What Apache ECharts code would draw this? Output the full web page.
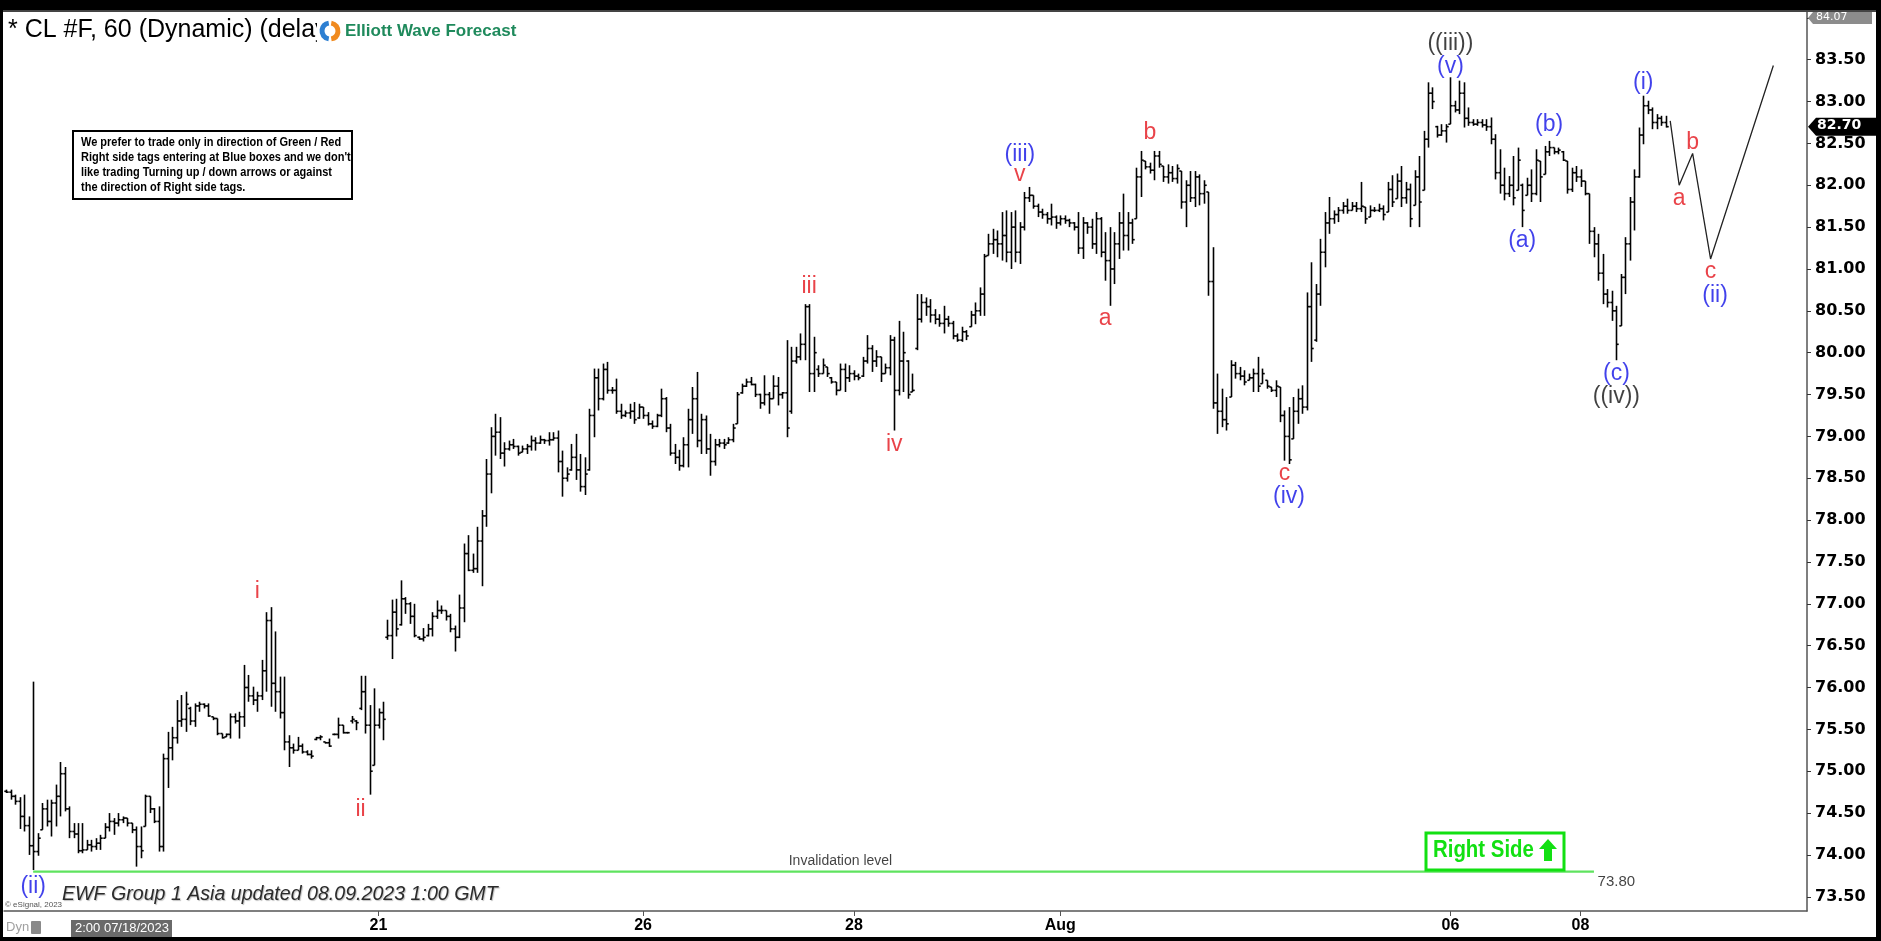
<!DOCTYPE html>
<html>
<head>
<meta charset="utf-8">
<script src="https://cdn.jsdelivr.net/npm/echarts@6/dist/echarts.min.js"></script>
<style>
html,body{margin:0;padding:0;background:#000;}
#chart{width:1881px;height:941px;}
</style>
</head>
<body>
<div id="chart"></div>
<script>
// ---------- DATA (hourly OHLC bars: [open, high, low, close]) ----------
const barsJul18to21 = [
[74.76,74.78,74.74,74.75],[74.75,74.78,74.66,74.70],[74.70,74.72,74.60,74.64],[74.64,74.69,74.31,74.46],[74.46,74.72,74.28,74.35],
[74.35,74.46,74.00,74.11],[74.11,76.07,73.82,74.04],[74.04,74.26,73.99,74.20],[74.30,74.62,74.30,74.55],[74.55,74.66,74.34,74.40],
[74.40,74.66,74.22,74.62],[74.62,74.84,74.34,74.70],[74.70,75.11,74.46,74.97],[74.97,75.05,74.52,74.55],[74.55,74.58,74.20,74.28],
[74.28,74.38,74.20,74.25],[74.25,74.38,74.02,74.05],[74.05,74.38,74.02,74.06],[74.06,74.18,74.06,74.12],[74.12,74.18,74.04,74.10],
[74.10,74.20,74.06,74.14],[74.14,74.24,74.06,74.20],[74.20,74.38,74.20,74.33],[74.33,74.50,74.28,74.40],[74.40,74.44,74.24,74.38],
[74.38,74.50,74.34,74.42],[74.42,74.46,74.38,74.44],[74.44,74.44,74.34,74.38],[74.38,74.38,74.26,74.30],[74.30,74.34,73.86,74.10],
[74.10,74.34,73.96,74.05],[74.34,74.72,74.34,74.70],[74.70,74.70,74.50,74.55],[74.55,74.56,74.38,74.40],[74.40,74.58,74.04,74.10],
[74.10,75.21,74.04,75.15],[75.15,75.47,74.80,75.28],[75.28,75.53,75.13,75.40],[75.40,75.85,75.33,75.60],[75.60,75.91,75.53,75.62],
[75.62,75.95,75.47,75.80],[75.75,75.77,75.55,75.60],[75.60,75.81,75.53,75.78],[75.78,75.83,75.71,75.80],[75.80,75.81,75.75,75.78],
[75.78,75.81,75.65,75.66],[75.65,75.65,75.61,75.63],[75.63,75.63,75.43,75.45],[75.45,75.45,75.39,75.40],[75.41,75.45,75.41,75.44],
[75.44,75.69,75.39,75.65],[75.65,75.69,75.57,75.60],[75.60,75.71,75.39,75.65],[75.65,76.27,75.53,76.00],[76.00,76.15,75.83,75.90],
[75.90,76.01,75.79,75.85],[75.85,75.95,75.71,75.90],[75.90,76.33,75.85,76.20],[76.20,76.90,75.95,76.80],[76.80,76.96,75.77,76.05],
[76.05,76.67,75.71,75.95]
];
const barsJul21to25 = [
[75.95,76.13,75.63,75.70],[75.70,76.13,75.25,75.35],[75.35,75.43,75.05,75.28],[75.28,75.33,75.21,75.25],[75.25,75.41,75.25,75.30],
[75.30,75.33,75.21,75.23],[75.23,75.25,75.19,75.20],[75.20,75.25,75.15,75.18],[75.38,75.41,75.37,75.40],[75.40,75.43,75.37,75.41],
[75.35,75.35,75.33,75.34],[75.34,75.39,75.29,75.30],[75.44,75.45,75.43,75.44],[75.44,75.64,75.39,75.55],[75.55,75.55,75.45,75.46],
[75.46,75.47,75.45,75.46],[75.60,75.66,75.57,75.62],[75.60,75.61,75.49,75.58],[75.75,76.14,75.73,75.95],[75.95,76.14,75.45,75.55],
[75.55,75.79,74.72,75.00],[75.07,75.99,75.07,75.55],[75.55,75.75,75.51,75.70],[75.70,75.83,75.37,75.62],[76.60,76.81,76.57,76.62],
[76.62,77.05,76.34,76.90],[76.90,77.06,76.61,76.70],[76.75,77.28,76.74,77.06],[77.06,77.08,76.88,77.00],[77.00,77.02,76.76,76.85],
[76.85,77.00,76.60,76.62],[76.60,76.61,76.57,76.58],[76.58,76.71,76.55,76.60],[76.62,76.76,76.61,76.70],[76.70,76.90,76.61,76.85],
[76.85,77.04,76.82,76.92],[76.92,76.98,76.88,76.92],[76.92,76.92,76.80,76.85],[76.85,76.88,76.66,76.70],[76.70,76.74,76.43,76.60],
[76.60,77.11,76.59,76.95],[76.95,77.72,76.78,77.60],[77.60,77.82,77.39,77.40],[77.40,77.60,77.37,77.42],[77.42,77.92,77.37,77.75],
[77.75,78.12,77.21,78.05],[78.05,78.73,77.92,78.55],[78.55,79.11,78.32,79.00],[79.00,79.27,78.77,79.05],[79.05,79.23,78.73,78.80],
[78.80,78.93,78.64,78.85],[78.85,78.95,78.83,78.90],[78.90,78.97,78.85,78.88],[78.88,78.89,78.77,78.80],[78.81,78.89,78.81,78.85],
[78.85,78.91,78.79,78.88],[78.88,79.01,78.83,78.95],[78.95,78.99,78.83,78.92],[78.92,79.01,78.91,78.96],[78.96,78.97,78.91,78.95],
[78.95,79.05,78.89,78.96],[78.96,79.05,78.95,78.98]
];
const barsJul25to28 = [
[78.98,79.07,78.57,78.70],[78.70,78.83,78.28,78.50],[78.50,78.63,78.46,78.55],[78.60,78.91,78.59,78.75],[78.75,79.03,78.48,78.60],
[78.60,78.79,78.34,78.40],[78.40,78.75,78.30,78.55],[78.60,79.33,78.59,79.25],[79.25,79.81,78.99,79.70],[79.70,79.81,79.31,79.45],
[79.45,79.87,79.43,79.80],[79.80,79.89,79.51,79.55],[79.55,79.59,79.51,79.55],[79.55,79.69,79.27,79.30],[79.30,79.39,79.21,79.25],
[79.25,79.31,79.23,79.28],[79.28,79.39,79.21,79.30],[79.30,79.41,79.15,79.20],[79.22,79.39,79.21,79.35],[79.35,79.35,79.21,79.25],
[79.25,79.29,79.13,79.15],[79.15,79.19,79.09,79.12],[79.12,79.27,79.11,79.25],[79.25,79.57,79.23,79.45],[79.45,79.47,79.05,79.10],
[79.10,79.15,78.77,78.80],[78.80,78.91,78.67,78.75],[78.75,78.84,78.59,78.65],[78.65,78.99,78.63,78.90],[78.90,79.33,78.63,79.20],
[79.20,79.59,79.03,79.45],[79.45,79.77,78.87,78.95],[78.95,79.27,78.79,79.20],[79.20,79.25,78.79,78.85],[78.85,79.03,78.53,78.70],
[78.70,78.97,78.65,78.90],[78.90,78.97,78.87,78.92],[78.92,78.97,78.85,78.90],[78.92,78.99,78.91,78.96],[78.96,79.15,78.93,79.10],
[79.15,79.53,79.15,79.50],[79.52,79.63,79.51,79.60],[79.60,79.69,79.59,79.65],[79.65,79.71,79.61,79.62],[79.62,79.63,79.47,79.50],
[79.50,79.51,79.33,79.40],[79.40,79.73,79.37,79.50],[79.50,79.53,79.27,79.45],[79.45,79.73,79.45,79.60],[79.60,79.71,79.37,79.50],
[79.50,79.53,79.45,79.52],[79.52,80.15,78.99,79.10],[79.30,80.07,79.27,79.90],[79.90,80.07,79.87,79.95],[79.95,80.23,79.91,80.10],
[80.10,80.58,79.91,80.55],[80.55,80.58,79.53,79.75],[79.75,80.19,79.53,80.00],[79.80,79.85,79.71,79.75]
];
const barsJul28toAug2 = [
[79.75,79.93,79.75,79.85],[79.83,79.83,79.71,79.75],[79.70,79.71,79.63,79.65],[79.65,79.65,79.49,79.55],[79.55,79.87,79.55,79.80],
[79.80,79.87,79.53,79.70],[79.70,79.85,79.65,79.75],[79.75,79.79,79.67,79.72],[79.72,79.75,79.67,79.70],[79.72,79.95,79.71,79.90],
[79.90,80.21,79.87,80.05],[80.05,80.09,79.77,79.90],[79.90,80.03,79.83,79.95],[79.95,79.95,79.65,79.75],[79.75,79.87,79.75,79.82],
[79.82,80.21,79.73,80.15],[80.15,80.19,79.07,79.55],[79.55,80.38,79.49,79.90],[79.90,80.25,79.53,80.00],[79.90,79.91,79.45,79.50],
[79.53,79.75,79.53,79.55],[80.05,80.70,80.03,80.40],[80.40,80.70,80.36,80.60],[80.60,80.66,80.44,80.55],[80.55,80.64,80.36,80.45],
[80.45,80.52,80.34,80.40],[80.40,80.46,80.31,80.35],[80.35,80.56,80.23,80.40],[80.40,80.44,80.31,80.35],[80.35,80.38,80.16,80.20],
[80.20,80.23,80.13,80.15],[80.15,80.31,80.13,80.25],[80.25,80.27,80.15,80.20],[80.31,80.50,80.31,80.45],[80.45,80.60,80.34,80.50],
[80.50,80.78,80.44,80.70],[80.70,81.18,80.44,81.15],[81.16,81.42,81.16,81.30],[81.30,81.48,81.18,81.35],[81.35,81.46,81.14,81.30],
[81.30,81.68,81.10,81.40],[81.40,81.70,81.08,81.20],[81.20,81.68,81.00,81.50],[81.50,81.70,81.08,81.20],[81.20,81.56,81.06,81.50],
[81.50,81.92,81.46,81.85],[81.85,81.98,81.80,81.88],[81.88,81.88,81.72,81.75],[81.75,81.78,81.62,81.68],[81.68,81.72,81.60,81.65],
[81.65,81.68,81.54,81.60],[81.60,81.78,81.52,81.62],[81.62,81.64,81.48,81.55],[81.55,81.64,81.52,81.60],[81.60,81.64,81.54,81.58],
[81.58,81.60,81.50,81.55],[81.55,81.56,81.46,81.50],[81.50,81.68,81.18,81.25],[81.25,81.62,81.12,81.55],[81.55,81.56,81.42,81.50],
[81.50,81.60,81.24,81.30],[81.30,81.68,81.18,81.60],[81.60,81.62,81.14,81.20],[81.20,81.44,80.86,81.10]
];
const barsAug2toAug4 = [
[81.10,81.50,80.56,81.00],[81.00,81.44,80.82,81.30],[81.30,81.68,81.12,81.55],[81.55,81.90,81.22,81.40],[81.40,81.68,81.22,81.55],
[81.55,81.60,81.30,81.35],[81.60,82.21,81.60,82.10],[82.10,82.41,81.86,82.30],[82.29,82.29,82.19,82.22],[82.22,82.27,82.14,82.18],
[82.18,82.41,82.06,82.35],[82.35,82.41,82.21,82.25],[82.23,82.23,82.04,82.10],[82.10,82.25,82.02,82.15],[82.15,82.23,82.04,82.08],
[82.08,82.25,82.02,82.20],[82.17,82.17,81.72,81.80],[81.80,82.06,81.50,82.00],[82.00,82.17,81.80,81.85],[81.85,82.17,81.74,82.10],
[82.10,82.13,81.76,81.90],[81.90,82.06,81.78,82.00],[81.92,81.92,80.68,80.85],[80.85,81.26,79.33,79.40],[79.40,79.75,79.03,79.30],
[79.30,79.57,79.11,79.20],[79.20,79.47,79.07,79.15],[79.47,79.91,79.47,79.85],[79.85,79.89,79.69,79.75],[79.75,79.83,79.67,79.72],
[79.72,79.79,79.61,79.65],[79.67,79.75,79.67,79.70],[79.70,79.81,79.53,79.75],[79.75,79.95,79.53,79.60],[79.63,79.81,79.63,79.75],
[79.67,79.67,79.57,79.60],[79.59,79.59,79.53,79.55],[79.55,79.67,79.47,79.60],[79.59,79.59,79.17,79.25],[79.25,79.31,78.71,79.00],
[79.00,79.35,78.67,78.72],[78.97,79.47,78.97,79.30],[79.30,79.57,79.15,79.45],[79.45,79.61,79.27,79.35],[79.35,80.72,79.31,80.55],
[80.55,81.08,79.89,80.05],[80.15,80.82,80.13,80.70],[80.70,81.36,80.56,81.20],[81.20,81.68,81.02,81.55],[81.55,81.86,81.42,81.60],
[81.60,81.70,81.54,81.65],[81.65,81.74,81.56,81.70],[81.70,81.80,81.66,81.75],[81.75,81.84,81.66,81.70],[81.70,81.80,81.70,81.75],
[81.75,81.80,81.68,81.72],[81.72,82.04,81.68,81.75],[81.74,81.74,81.54,81.60],[81.62,81.76,81.62,81.70],[81.70,81.74,81.68,81.70],
[81.70,81.78,81.68,81.72],[81.72,81.76,81.58,81.65]
];
const barsAug4toAug9 = [
[81.68,82.04,81.68,81.95],[81.95,82.12,81.74,81.80],[81.84,82.14,81.84,82.05],[82.05,82.23,81.74,81.85],[81.85,82.04,81.78,81.95],
[81.95,82.02,81.50,81.60],[81.76,82.18,81.76,82.10],[82.10,82.35,81.50,81.80],[81.94,82.65,81.94,82.55],[82.55,83.23,82.45,83.10],
[83.10,83.17,82.91,83.00],[82.70,82.71,82.57,82.60],[82.60,82.73,82.59,82.65],[82.65,82.73,82.51,82.70],[82.73,83.29,82.73,82.95],
[82.95,83.01,82.87,82.90],[82.90,83.25,82.85,83.10],[83.10,83.23,82.69,82.80],[82.80,82.93,82.71,82.75],[82.75,82.79,82.71,82.73],
[82.73,82.79,82.71,82.75],[82.75,82.79,82.69,82.72],[82.72,82.79,82.65,82.70],[82.70,82.81,82.49,82.55],[82.55,82.61,82.07,82.15],
[82.15,82.43,81.90,82.00],[82.00,82.21,81.82,81.90],[81.90,82.11,81.86,82.00],[82.00,82.35,81.76,81.85],[81.94,82.45,81.94,82.30],
[82.00,82.02,81.50,81.70],[81.88,82.09,81.88,82.00],[82.00,82.19,81.80,81.90],[81.90,82.43,81.88,82.30],[82.29,82.29,81.80,82.10],
[82.13,82.47,82.13,82.40],[82.40,82.53,82.35,82.45],[82.45,82.45,82.37,82.40],[82.40,82.45,82.37,82.42],[82.40,82.41,82.29,82.30],
[82.29,82.29,81.90,81.95],[81.95,82.21,81.92,82.15],[82.15,82.23,82.04,82.10],[82.10,82.19,81.98,82.05],[82.05,82.05,81.88,81.90],
[81.90,81.90,81.30,81.45],[81.45,81.50,81.14,81.30],[81.30,81.42,80.86,80.95],[80.95,81.18,80.58,80.70],[80.70,80.76,80.54,80.60],
[80.60,80.74,80.38,80.50],[80.50,80.56,79.91,80.10],[80.32,80.94,80.32,80.90],[80.90,81.38,80.70,81.30],[81.30,81.86,81.10,81.80],
[81.80,82.19,81.46,82.10],[82.10,82.69,82.09,82.60],[82.60,83.07,82.49,82.95],[82.95,83.01,82.85,82.90],[82.90,82.93,82.67,82.75],
[82.75,82.85,82.67,82.80],[82.80,82.83,82.71,82.75],[82.75,82.83,82.69,82.70]
];

// date tick labels: bar index where each day label sits
const dateTickBars = [83, 142, 189, 235, 322, 351];
const dateTickText = ['21', '26', '28', 'Aug', '06', '08'];

// Elliott wave labels: text, bar position, price, colour group
const waveText  = ['(ii)', 'i', 'ii', 'iii', 'iv', '(iii)', 'v', 'a', 'b', 'c', '(iv)', '((iii))', '(v)', '(a)', '(b)', '(c)', '((iv))', '(i)', 'a', 'b', 'c', '(ii)'];
const waveBar   = [6.2, 55.7, 78.8, 178.6, 198.0, 226.3, 226.3, 245.4, 254.8, 285.0, 285.6, 321.6, 321.8, 337.6, 344.3, 359.0, 358.6, 365.0, 373.4, 375.8, 380.4, 380.8];
const wavePrice = [73.62, 77.14, 74.54, 80.79, 78.90, 82.37, 82.13, 80.41, 82.63, 78.55, 78.28, 83.69, 83.42, 81.34, 82.72, 79.75, 79.48, 83.22, 81.84, 82.51, 80.97, 80.68];
const waveColor = ['blue', 'red', 'red', 'red', 'red', 'blue', 'red', 'red', 'red', 'red', 'blue', 'black', 'blue', 'blue', 'blue', 'blue', 'black', 'blue', 'red', 'red', 'red', 'blue'];

// projected path (a-b-c of (ii) then up)
const projBar   = [370.9, 373.2, 376.1, 380.3, 394.4];
const projPrice = [82.77, 82.00, 82.38, 81.12, 83.43];

// invalidation level
const invalidationPrice = 73.80;
const invalidationFromBar = 6;
const invalidationToBar = 354;
const lastPrice = 82.70;
const axisTopPrice = 84.07;
const axisBottomPrice = 73.33;
const slotCount = 402;

// ---------- BUILD ----------
const allBars = [].concat(barsJul18to21, barsJul21to25, barsJul25to28, barsJul28toAug2, barsAug2toAug4, barsAug4toAug9);
const ohlcData = allBars.map((b, i) => [i, b[0], b[1], b[2], b[3]]);
const slots = [];
for (let i = 0; i < slotCount; i++) slots.push(String(i));
const tickMap = {};
dateTickBars.forEach((b, k) => { tickMap[b] = dateTickText[k]; });
const colorMap = { red: '#e3141c', blue: '#1212e6', black: '#111111' };

const waveData = waveText.map((t, k) => ({
  value: [waveBar[k], wavePrice[k]],
  label: { formatter: t, color: colorMap[waveColor[k]] }
}));

const chart = echarts.init(document.getElementById('chart'), null, { renderer: 'canvas' });
const sans = "'Liberation Sans',Arial,sans-serif";
const wide = "'DejaVu Sans',Verdana,sans-serif";

const option = {
  backgroundColor: '#ffffff',
  animation: false,
  grid: { left: 4, right: 74, top: 12, bottom: 30, containLabel: false },
  xAxis: {
    type: 'category',
    data: slots,
    boundaryGap: true,
    axisLine: { show: true, lineStyle: { color: '#555', width: 1.5 } },
    axisTick: {
      show: true, alignWithLabel: true, length: 5,
      interval: (i) => tickMap[i] !== undefined,
      lineStyle: { color: '#555' }
    },
    axisLabel: {
      show: true,
      interval: (i) => tickMap[i] !== undefined,
      formatter: (v, i) => tickMap[i] || '',
      color: '#000', fontWeight: 'bold', fontSize: 16,
      fontFamily: sans,
      margin: 7
    },
    splitLine: { show: false }
  },
  yAxis: {
    type: 'value',
    position: 'right',
    min: axisBottomPrice,
    max: axisTopPrice,
    splitNumber: 21,
    axisLine: { show: true, lineStyle: { color: '#555', width: 1.5 } },
    axisTick: { show: true, length: 4, lineStyle: { color: '#333' } },
    axisLabel: {
      showMinLabel: false, showMaxLabel: false,
      formatter: (v) => (v > 83.9 ? '' : v.toFixed(2)),
      color: '#000', fontWeight: 'bold', fontSize: 16,
      fontFamily: wide,
      margin: 8
    },
    splitLine: { show: false }
  },
  series: [
    {
      type: 'custom',
      name: 'CL',
      data: ohlcData,
      encode: { x: 0, y: [1, 2, 3, 4] },
      clip: true,
      silent: true,
      renderItem: function (params, api) {
        const idx = api.value(0);
        const o = api.coord([idx, api.value(1)]);
        const h = api.coord([idx, api.value(2)]);
        const l = api.coord([idx, api.value(3)]);
        const c = api.coord([idx, api.value(4)]);
        const x = Math.round(h[0]) + 0.5;
        const t = 2.2;
        const st = { stroke: '#000', lineWidth: 1.6 };
        return {
          type: 'group',
          children: [
            { type: 'line', shape: { x1: x, y1: h[1], x2: x, y2: Math.max(l[1], h[1] + 1) }, style: st },
            { type: 'line', shape: { x1: x - t, y1: o[1], x2: x, y2: o[1] }, style: st },
            { type: 'line', shape: { x1: x, y1: c[1], x2: x + t, y2: c[1] }, style: st }
          ]
        };
      }
    },
    {
      type: 'line',
      name: 'invalidation',
      data: [[invalidationFromBar, invalidationPrice], [invalidationToBar, invalidationPrice]],
      symbol: 'none',
      silent: true,
      lineStyle: { color: '#5fe35f', width: 2.2 },
      z: 1
    },
    {
      type: 'line',
      name: 'projection',
      data: projBar.map((b, k) => [b, projPrice[k]]),
      symbol: 'none',
      silent: true,
      lineStyle: { color: '#222', width: 1.3 },
      z: 3
    },
    {
      type: 'scatter',
      name: 'waves',
      data: waveData,
      symbolSize: 0,
      silent: true,
      z: 5,
      label: {
        show: true, position: 'inside',
        fontSize: 23,
        fontFamily: sans
      }
    },
    {
      type: 'scatter',
      name: 'levelTexts',
      data: [
        { value: [186.1, 73.92], label: { formatter: 'Invalidation level', fontSize: 14, fontFamily: sans, color: '#111' } },
        { value: [359.1, 73.68], label: { formatter: invalidationPrice.toFixed(2), fontSize: 15, fontFamily: sans, color: '#111' } }
      ],
      symbolSize: 0,
      silent: true,
      label: { show: true, position: 'inside' }
    }
  ]
};
chart.setOption(option);

// ---------- static decorations ----------
const yLast = chart.convertToPixel({ yAxisIndex: 0 }, lastPrice);
const noticeLines = [
  'We prefer to trade only in direction of Green / Red',
  "Right side tags entering at Blue boxes and we don't",
  'like trading Turning up / down arrows or against',
  'the direction of Right side tags.'
];
const gfx = [
  // title
  { type: 'text', left: 8, top: 18, z: 10, style: { text: '* CL #F, 60 (Dynamic) (delay', font: "25px " + sans, fill: '#000' } },
  // logo
  { type: 'rect', shape: { x: 317, y: 15, width: 214, height: 32 }, style: { fill: '#fff' }, z: 11 },
  { type: 'arc', shape: { cx: 330, cy: 31, r: 8, startAngle: Math.PI * 0.55, endAngle: Math.PI * 1.45 }, style: { stroke: '#2d7fd2', lineWidth: 5, fill: 'none' }, z: 12 },
  { type: 'arc', shape: { cx: 330, cy: 31, r: 8, startAngle: -Math.PI * 0.45, endAngle: Math.PI * 0.45 }, style: { stroke: '#f08a1f', lineWidth: 5, fill: 'none' }, z: 12 },
  { type: 'text', left: 345, top: 23, z: 12, style: { text: 'Elliott Wave Forecast', font: "bold 17px " + sans, fill: '#1f8a5c' } },
  // notice box
  { type: 'rect', shape: { x: 73, y: 131, width: 279, height: 68 }, style: { fill: '#fff', stroke: '#000', lineWidth: 2 }, z: 10 },
  { type: 'text', x: 81, y: 135, scaleX: 0.88, z: 11, style: { text: noticeLines.join('\n'), font: "bold 12.5px " + sans, fill: '#000', lineHeight: 15 } },
  // Right Side tag
  { type: 'rect', shape: { x: 1426, y: 833, width: 138, height: 37 }, style: { fill: '#fff', stroke: '#12e012', lineWidth: 3 }, z: 10 },
  { type: 'text', x: 1433, y: 838, scaleX: 0.85, z: 11, style: { text: 'Right Side', font: "bold 24px " + sans, fill: '#12e012' } },
  { type: 'polygon', shape: { points: [[1548, 839], [1557, 849], [1552, 849], [1552, 861], [1544, 861], [1544, 849], [1539, 849]] }, style: { fill: '#12e012' }, z: 11 },
  // footer text
  { type: 'text', left: 62, top: 885, z: 10, style: { text: 'EWF Group 1 Asia updated 08.09.2023 1:00 GMT', font: "italic 19.6px " + sans, fill: '#2b2b2b', textShadowColor: 'rgba(0,0,0,0.25)', textShadowOffsetX: 1, textShadowOffsetY: 1, textShadowBlur: 1 } },
  { type: 'text', left: 5, top: 901, z: 9, style: { text: '\u00a9 eSignal, 2023', font: "8px " + sans, fill: '#555' } },
  // bottom status bar
  { type: 'text', left: 6, top: 921, z: 10, style: { text: 'Dyn', font: "13px " + sans, fill: '#a0a0a0' } },
  { type: 'rect', shape: { x: 31, y: 921, width: 10, height: 13, r: 1 }, style: { fill: '#8a8a8a' }, z: 10 },
  { type: 'rect', shape: { x: 71, y: 920, width: 101, height: 17 }, style: { fill: '#6a6a6a' }, z: 10 },
  { type: 'text', left: 75, top: 922, z: 11, style: { text: '2:00 07/18/2023', font: "13px " + sans, fill: '#fff' } },
  // price tags
  { type: 'polygon', shape: { points: [[1808, 18], [1813, 12], [1872, 12], [1872, 24], [1813, 24]] }, style: { fill: '#8c8c8c' }, z: 10 },
  { type: 'text', left: 1816, top: 12, z: 11, style: { text: axisTopPrice.toFixed(2), font: "11px " + wide, fill: '#fff' } },
  { type: 'polygon', shape: { points: [[1808, yLast], [1816, yLast - 9], [1881, yLast - 9], [1881, yLast + 9], [1816, yLast + 9]] }, style: { fill: '#000' }, z: 10 },
  { type: 'text', left: 1817, top: yLast - 8, z: 11, style: { text: lastPrice.toFixed(2), font: "bold 14px " + wide, fill: '#fff' } },
  // outer dark frame
  { type: 'rect', shape: { x: 0, y: 0, width: 1881, height: 11 }, style: { fill: '#000' }, z: 20 },
  { type: 'rect', shape: { x: 0, y: 10, width: 1881, height: 2 }, style: { fill: '#444' }, z: 20 },
  { type: 'rect', shape: { x: 0, y: 0, width: 3, height: 941 }, style: { fill: '#000' }, z: 20 },
  { type: 'rect', shape: { x: 1876, y: 0, width: 5, height: 941 }, style: { fill: '#000' }, z: 20 },
  { type: 'rect', shape: { x: 0, y: 937, width: 1881, height: 4 }, style: { fill: '#000' }, z: 20 }
];
chart.setOption({ graphic: gfx });
</script>
</body>
</html>
